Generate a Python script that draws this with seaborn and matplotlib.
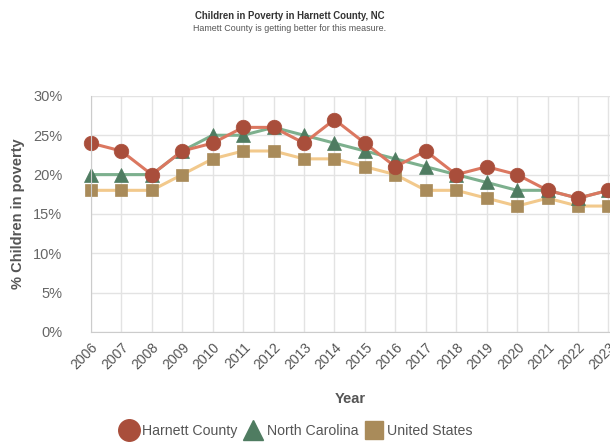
import matplotlib
matplotlib.use("Agg")
import matplotlib.pyplot as plt
import seaborn as sns
import pandas as pd
from matplotlib.lines import Line2D
from matplotlib.ticker import PercentFormatter

years = list(range(2006, 2024))
harnett = [24, 23, 20, 23, 24, 26, 26, 24, 27, 24, 21, 23, 20, 21, 20, 18, 17, 18]
north_carolina = [20, 20, 20, 23, 25, 25, 26, 25, 24, 23, 22, 21, 20, 19, 18, 18, 17, 18]
united_states = [18, 18, 18, 20, 22, 23, 23, 22, 22, 21, 20, 18, 18, 17, 16, 17, 16, 16]

series = [
    ("Harnett County", harnett, "#DB7760", "#A94E3B", "o", 10.5),
    ("North Carolina", north_carolina, "#7DB08E", "#4F7C61", "^", 10),
    ("United States", united_states, "#F2C98C", "#A98B5A", "s", 8),
]

sns.set_style("white")
plt.rcParams["font.family"] = ["Liberation Sans", "DejaVu Sans"]

fig = plt.figure(figsize=(6.1, 4.42), dpi=100)
ax = fig.add_axes([0.149, 0.249, 0.851, 0.534])

# draw in reverse so Harnett sits on top
for name, vals, line_c, mark_c, mk, ms in reversed(series):
    df = pd.DataFrame({"year": years, "value": vals})
    sns.lineplot(data=df, x="year", y="value", ax=ax, color=line_c, linewidth=2.2,
                 marker=mk, markersize=ms, markerfacecolor=mark_c,
                 markeredgecolor=mark_c, markeredgewidth=0.5, legend=False, clip_on=False)

ax.set_xlim(2006, 2023.05)
ax.set_ylim(0, 30)
ax.set_xticks(years)
ax.set_yticks(range(0, 31, 5))
ax.yaxis.set_major_formatter(PercentFormatter(decimals=0))
ax.grid(True, color="#e3e3e3", linewidth=1)
ax.set_axisbelow(True)
for s in ["top", "right"]:
    ax.spines[s].set_visible(False)
ax.spines["left"].set_color("#cccccc")
ax.spines["bottom"].set_color("#cccccc")
ax.tick_params(axis="y", length=6.5, color="#e3e3e3", pad=14, labelsize=10.5, labelcolor="#666666")
ax.tick_params(axis="x", length=0, pad=6, labelsize=10, labelcolor="#555555")
for lbl in ax.get_xticklabels():
    lbl.set_rotation(45)
    lbl.set_ha("right")
    lbl.set_rotation_mode("anchor")

ax.set_xlabel("Year", fontsize=10.5, fontweight="bold", color="#555555", labelpad=14)
ax.set_ylabel("% Children in poverty", fontsize=10.5, fontweight="bold", color="#555555", labelpad=6)

fig.text(0.475, 0.963, "Children in Poverty in Harnett County, NC", ha="center", va="center",
         fontsize=6.9, fontweight="bold", color="#333333")
fig.text(0.475, 0.935, "Hamett County is getting better for this measure.", ha="center", va="center",
         fontsize=6.4, color="#555555")

handles = [Line2D([], [], linestyle="none", marker=mk, markersize=ms + 5, markerfacecolor=mark_c,
                  markeredgecolor=mark_c, label=name)
           for name, vals, line_c, mark_c, mk, ms in series]
fig.legend(handles=handles, loc="center", bbox_to_anchor=(0.487, 0.025), ncol=3, frameon=False,
           fontsize=10.2, handlelength=1.0, handletextpad=0.45, columnspacing=0.6,
           labelcolor="#555555")

fig.savefig("out.png", dpi=100)
